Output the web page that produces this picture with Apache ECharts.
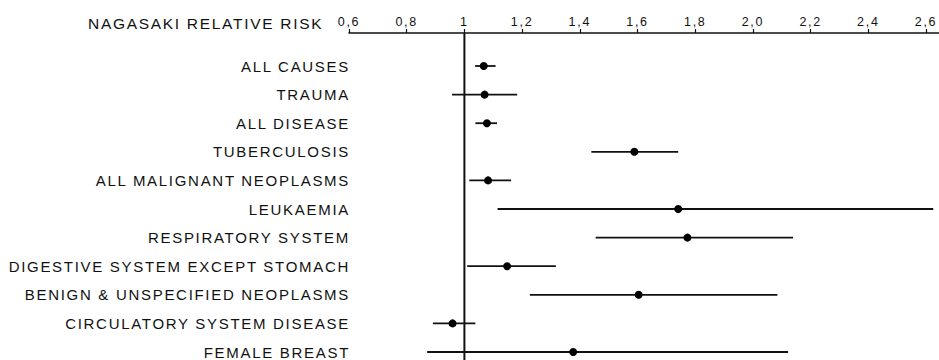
<!DOCTYPE html>
<html>
<head>
<meta charset="utf-8">
<title>Nagasaki relative risk</title>
<script src="https://cdn.jsdelivr.net/npm/echarts@6/dist/echarts.min.js"></script>
<style>
  html, body { margin: 0; padding: 0; background: #fff; }
  #chart { width: 939px; height: 360px; }
  /* the old figure uses widely spaced lettering */
  #chart text { letter-spacing: 1.7px; }
</style>
</head>
<body>
<div id="chart"></div>
<script>
// causes of death, top to bottom
var categories = [
  'ALL CAUSES',
  'TRAUMA',
  'ALL DISEASE',
  'TUBERCULOSIS',
  'ALL MALIGNANT NEOPLASMS',
  'LEUKAEMIA',
  'RESPIRATORY SYSTEM',
  'DIGESTIVE SYSTEM EXCEPT STOMACH',
  'BENIGN & UNSPECIFIED NEOPLASMS',
  'CIRCULATORY SYSTEM DISEASE',
  'FEMALE BREAST'
];
// relative risk (dot) and the interval ends
var relRisk = [1.067, 1.070, 1.078, 1.589, 1.082, 1.741, 1.773, 1.148, 1.604, 0.959, 1.377];
var ciLow   = [1.037, 0.957, 1.038, 1.440, 1.017, 1.115, 1.455, 1.010, 1.227, 0.891, 0.871];
var ciHigh  = [1.108, 1.183, 1.113, 1.741, 1.162, 2.625, 2.139, 1.317, 2.085, 1.038, 2.122];

var tickValues = [0.6, 0.8, 1, 1.2, 1.4, 1.6, 1.8, 2.0, 2.2, 2.4, 2.6];
var tickLabels = ['0,6', '0,8', '1', '1,2', '1,4', '1,6', '1,8', '2,0', '2,2', '2,4', '2,6'];
var refValue = 1;

var xMin = 0.6, xMax = 2.645;
var ink = '#111';
var font = '"Liberation Sans", Arial, sans-serif';

var chart = echarts.init(document.getElementById('chart'), null, { renderer: 'svg' });

function tickText(v) {
  for (var i = 0; i < tickValues.length; i++) {
    if (Math.abs(tickValues[i] - v) < 1e-6) return tickLabels[i];
  }
  return '';
}

var option = {
  animation: false,
  title: {
    text: 'NAGASAKI RELATIVE RISK',
    left: 88,
    top: 15,
    padding: 0,
    textStyle: { fontFamily: font, fontSize: 15.5, fontWeight: 'normal', color: '#111' }
  },
  grid: [
    { left: 349, right: 0, top: 66, bottom: 8 },   // rows
    { left: 349, right: 0, top: 33, bottom: 0 }    // axis + reference line
  ],
  xAxis: [
    { gridIndex: 0, type: 'value', min: xMin, max: xMax, show: false },
    {
      gridIndex: 1, type: 'value', position: 'top', min: xMin, max: xMax,
      splitLine: { show: false },
      axisLine: { onZero: false, lineStyle: { color: ink, width: 1.6 } },
      axisTick: { customValues: tickValues, length: 4, lineStyle: { color: ink, width: 1.2 } },
      axisLabel: {
        customValues: tickValues,
        formatter: tickText,
        margin: 5,
        fontFamily: font, fontSize: 12.5, color: '#111'
      }
    }
  ],
  yAxis: [
    {
      gridIndex: 0, type: 'category', data: categories, inverse: true, boundaryGap: false,
      axisLine: { show: false },
      axisTick: { show: false },
      splitLine: { show: false },
      axisLabel: { margin: -1, fontFamily: font, fontSize: 15, color: '#111' }
    },
    { gridIndex: 1, type: 'value', min: 0, max: 1, show: false }
  ],
  series: [
    {
      // vertical line at RR = 1
      type: 'line',
      xAxisIndex: 1, yAxisIndex: 1,
      data: [[refValue, 0], [refValue, 1]],
      symbol: 'none',
      lineStyle: { color: ink, width: 2 },
      silent: true
    },
    {
      // confidence intervals
      type: 'custom',
      xAxisIndex: 0, yAxisIndex: 0,
      data: categories.map(function (c, i) { return [ciLow[i], ciHigh[i], i]; }),
      encode: { x: [0, 1], y: 2 },
      renderItem: function (params, api) {
        var row = api.value(2);
        var a = api.coord([api.value(0), row]);
        var b = api.coord([api.value(1), row]);
        return {
          type: 'line',
          shape: { x1: a[0], y1: a[1], x2: b[0], y2: b[1] },
          style: { stroke: ink, lineWidth: 1.8 }
        };
      }
    },
    {
      type: 'scatter',
      xAxisIndex: 0, yAxisIndex: 0,
      data: relRisk.map(function (v, i) { return [v, i]; }),
      symbol: 'circle',
      symbolSize: 8,
      itemStyle: { color: '#000', opacity: 1 }
    }
  ]
};

chart.setOption(option);
</script>
</body>
</html>
